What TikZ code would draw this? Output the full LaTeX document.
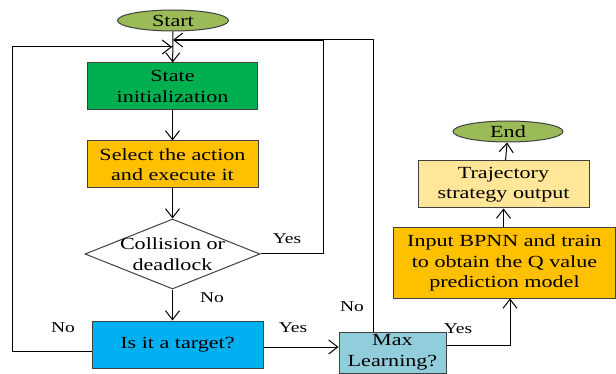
\documentclass[tikz,border=0pt]{standalone}
\usepackage{fontspec}
\setmainfont{Liberation Serif}[FakeStretch=1.3]
\usetikzlibrary{arrows.meta,shapes.geometric}
\definecolor{startgreen}{RGB}{155,187,89}
\definecolor{initgreen}{RGB}{0,176,80}
\definecolor{amber}{RGB}{255,192,0}
\definecolor{skyblue}{RGB}{0,176,240}
\definecolor{paleblue}{RGB}{146,205,220}
\definecolor{paleyellow}{RGB}{255,230,153}
\definecolor{edge}{RGB}{64,64,64}
\tikzset{
  box/.style={draw=edge, line width=1pt, rectangle, align=center, inner sep=0pt,
    font=\fontsize{17}{20.5}\selectfont},
  oval/.style={draw=edge, line width=1pt, ellipse, fill=startgreen, inner sep=0pt,
    font=\fontsize{17}{20.5}\selectfont},
  conn/.style={line width=1pt, -{Straight Barb[length=9pt,width=14pt,line width=1pt]}},
  plain/.style={line width=1pt},
  lbl/.style={font=\fontsize{15}{18}\selectfont, inner sep=0pt}
}
\begin{document}
\begin{tikzpicture}[x=1pt,y=-1pt]
\useasboundingbox (0,0) rectangle (616,374);
\node[oval, minimum width=111pt, minimum height=21pt] (start) at (173,20.5) {Start};
\node[box, fill=initgreen, minimum width=170pt, minimum height=47pt] (init) at (172.5,86.5) {State\\initialization};
\node[box, fill=amber, minimum width=171pt, minimum height=47pt] (select) at (172.5,164.5) {Select the action\\and execute it};
\node[diamond, draw=edge, line width=1pt, fill=white, minimum width=175pt, minimum height=70pt, inner sep=0pt] (dia) at (172.5,254) {};
\node[align=center, inner sep=0pt, font=\fontsize{17}{20.5}\selectfont] (diatext) at (172.5,254) {Collision or\\deadlock};
\node[box, fill=skyblue, minimum width=171pt, minimum height=47pt] (target) at (177.5,344.5) {Is it a target?};
\node[box, fill=paleblue, minimum width=107pt, minimum height=41pt] (maxl) at (392.5,352.5) {Max\\Learning?};
\node[box, fill=amber, minimum width=222pt, minimum height=70pt] (bpnn) at (504.5,263) {Input BPNN and train\\to obtain the Q value\\prediction model};
\node[box, fill=paleyellow, minimum width=171pt, minimum height=47pt] (traj) at (503.5,184.5) {Trajectory\\strategy output};
\node[oval, minimum width=110pt, minimum height=21pt] (end) at (508,131.5) {End};

\coordinate (jl) at (173,47);
\coordinate (jr) at (173,40);
\coordinate (ll) at (12,47);
\coordinate (lb) at (12,351);
\coordinate (yr) at (323,254);
\coordinate (yt) at (323,40);
\coordinate (mt) at (373,40);
\coordinate (mr) at (510,345);

\draw[conn] (start) -- (init);
\draw[conn] (init) -- (select);
\draw[conn] (select) -- (dia);
\draw[conn] (dia.south) -- (dia.south |- target.north);
\draw[plain] (target.west |- lb) -- (lb) -- (ll) -- (jl);
\draw[conn] (ll) -- ++(160,0);
\draw[plain] (dia.east) -- (yr) -- (yt);
\draw[conn, line width=1.6pt] (yt) -- (jr);
\draw[plain] (maxl.north -| mt) -- (mt) -- (yt);
\draw[conn] (target.east |- 0,347) -- (maxl.west |- 0,347);
\draw[conn] (maxl.east |- 0,345) -- (mr) -- (bpnn.south -| mr);
\draw[conn] (bpnn.north -| traj) -- (traj);
\draw[conn] (traj) -- (end);

\node[lbl] (ydia) at (287,239) {Yes};
\node[lbl] (ndia) at (212,298) {No};
\node[lbl] (ntgt) at (63,328) {No};
\node[lbl] (ytgt) at (293,328) {Yes};
\node[lbl] (nmax) at (352,307) {No};
\node[lbl] (ymax) at (458,329) {Yes};
\end{tikzpicture}
\end{document}
